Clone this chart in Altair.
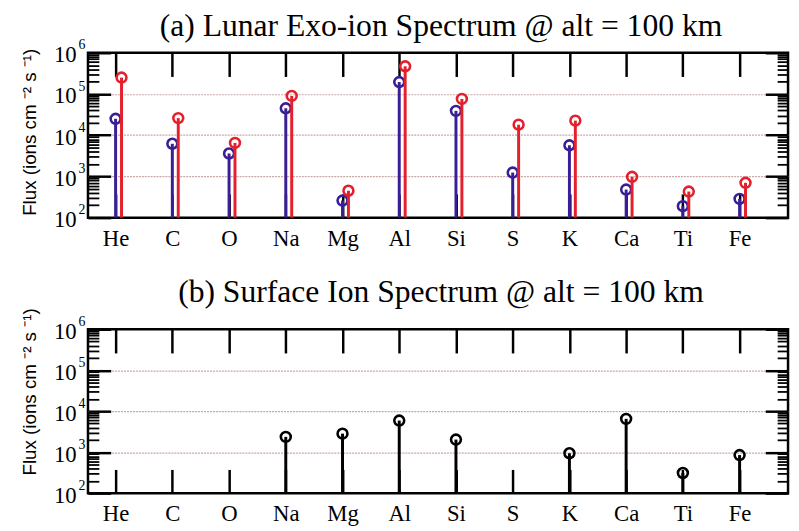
import altair as alt
import pandas as pd

# ---------------- data ----------------
elements = ["He", "C", "O", "Na", "Mg", "Al", "Si", "S", "K", "Ca", "Ti", "Fe"]
exo_blue = [2.5e4, 6.2e3, 3.6e3, 4.5e4, 2.6e2, 1.95e5, 3.9e4, 1.24e3, 5.7e3, 4.8e2, 1.9e2, 2.85e2]
exo_red = [2.5e5, 2.6e4, 6.5e3, 9.0e4, 4.5e2, 4.7e5, 7.6e4, 1.8e4, 2.26e4, 9.8e2, 4.3e2, 7.0e2]
surface = [None, None, None, 2.36e3, 2.83e3, 5.9e3, 2.03e3, None, 9.4e2, 6.5e3, 3.1e2, 8.5e2]

decades = [1e2, 1e3, 1e4, 1e5, 1e6]
grid_values = [1e3, 1e4, 1e5]
minor_values = [m * 10 ** k for k in range(2, 6) for m in range(2, 10)]

title_a = "(a) Lunar Exo-ion Spectrum @ alt = 100 km"
title_b = "(b) Surface Ion Spectrum @ alt = 100 km"
y_title = "Flux (ions cm  \u207b\u00b2 s \u207b\u00b9)"

BLUE = "#3a1e96"
RED = "#e3202b"
BLACK = "#000000"
GRID = "#c9a7a7"
SERIF = "Liberation Serif"
SANS = "Liberation Sans"

W = 709
H_A = 167
H_B = 166

idx = list(range(len(elements)))
df_a = pd.DataFrame({"idx": idx, "element": elements, "blue": exo_blue,
                     "red": exo_red, "base": [1e2] * len(elements)})
df_b = pd.DataFrame({"idx": idx, "element": elements, "val": surface,
                     "base": [1e2] * len(elements)})
df_b_pts = df_b.dropna()

xs = alt.Scale(domain=[-0.487, 11.854], nice=False, zero=False)
ys = alt.Scale(type="log", domain=[1e2, 1e6], nice=False)

label_js = "[" + ",".join("'%s'" % e for e in elements) + "][datum.value]"


def axis_layers(df, height, title_y):
    common = dict(domain=False, grid=False, title=None)
    x_axes = [
        alt.Axis(orient="bottom", values=idx, tickSize=0, labelExpr=label_js,
                 labelFont=SERIF, labelFontSize=23, labelColor=BLACK,
                 labelPadding=10, labelFlush=False, labelOverlap=False, **common),
        # ticks hanging down from the top edge
        alt.Axis(orient="bottom", values=idx, offset=-height, tickSize=24,
                 tickWidth=2.5, tickColor=BLACK, labels=False, **common),
        # ticks rising from the bottom edge
        alt.Axis(orient="top", values=idx, offset=-height, tickSize=24,
                 tickWidth=2.5, tickColor=BLACK, labels=False, **common),
    ]
    y_axes = [
        alt.Axis(orient="left", values=decades, tickSize=0, labelExpr="'10'",
                 labelFont=SERIF, labelFontSize=23, labelColor=BLACK, labelPadding=12,
                 labelBaseline="middle", labelOffset=2, labelFlush=False,
                 labelOverlap=False, domain=False, grid=False,
                 title=y_title, titleFont=SANS, titleFontSize=19,
                 titleFontWeight="normal", titleColor=BLACK, titlePadding=14,
                 titleY=title_y),
        alt.Axis(orient="left", values=decades, tickSize=0,
                 labelExpr="'' + round(log(datum.value) / LN10)",
                 labelFont=SERIF, labelFontSize=14, labelColor=BLACK, labelPadding=10,
                 labelAlign="left", labelBaseline="middle", labelOffset=-8,
                 labelFlush=False, labelOverlap=False, **common),
        # inward ticks on the left edge
        alt.Axis(orient="right", values=decades, offset=-W, tickSize=23, tickWidth=2.5,
                 tickColor=BLACK, labels=False, **common),
        alt.Axis(orient="right", values=minor_values, offset=-W, tickSize=11,
                 tickWidth=1.8, tickColor=BLACK, labels=False, **common),
        # inward ticks on the right edge
        alt.Axis(orient="left", values=decades, offset=-W, tickSize=23, tickWidth=2.5,
                 tickColor=BLACK, labels=False, **common),
        alt.Axis(orient="left", values=minor_values, offset=-W, tickSize=11,
                 tickWidth=1.8, tickColor=BLACK, labels=False, **common),
        alt.Axis(orient="left", values=grid_values, ticks=False, labels=False,
                 domain=False, grid=True, gridColor=GRID, gridDash=[2, 1],
                 gridWidth=1.2, title=None),
    ]
    layers = []
    for i, ya in enumerate(y_axes):
        xa = x_axes[i] if i < len(x_axes) else None
        layers.append(
            alt.Chart(df).mark_point(opacity=0).encode(
                x=alt.X("idx:Q", scale=xs, axis=xa),
                y=alt.Y("base:Q", scale=ys, axis=ya),
            )
        )
    return layers


def stem(df, field, color, dx=0):
    return alt.Chart(df).mark_rule(strokeWidth=3, color=color, xOffset=dx).encode(
        x=alt.X("idx:Q", scale=xs, axis=None),
        y=alt.Y("base:Q", scale=ys, axis=None),
        y2=alt.Y2(field + ":Q"),
    )


def head(df, field, color, dx=0):
    return alt.Chart(df).mark_point(shape="circle", filled=False, size=100,
                                    strokeWidth=2.6, color=color, opacity=1,
                                    xOffset=dx).encode(
        x=alt.X("idx:Q", scale=xs, axis=None),
        y=alt.Y(field + ":Q", scale=ys, axis=None),
    )


def title(text, offset):
    return alt.TitleParams(text=text, font=SERIF, fontSize=32, fontWeight="normal",
                           color=BLACK, anchor="middle", frame="group",
                           baseline="alphabetic", offset=offset, dx=3)


panel_a = alt.layer(
    *axis_layers(df_a, H_A, 80),
    stem(df_a, "blue", BLUE), head(df_a, "blue", BLUE),
    stem(df_a, "red", RED, 6), head(df_a, "red", RED, 6),
).resolve_axis(x="independent", y="independent").properties(
    width=W, height=H_A, title=title(title_a, -30))

panel_b = alt.layer(
    *axis_layers(df_b, H_B, 63),
    stem(df_b_pts, "val", BLACK), head(df_b_pts, "val", BLACK),
).resolve_axis(x="independent", y="independent").properties(
    width=W, height=H_B, title=title(title_b, -29))

chart = alt.vconcat(panel_a, panel_b, spacing=23).properties(
    padding={"left": 11, "top": -3, "right": 0, "bottom": 0},
    background="white",
).configure_view(stroke=BLACK, strokeWidth=2.5)

chart.save("out.html", embed_options={"renderer": "svg", "actions": False})
